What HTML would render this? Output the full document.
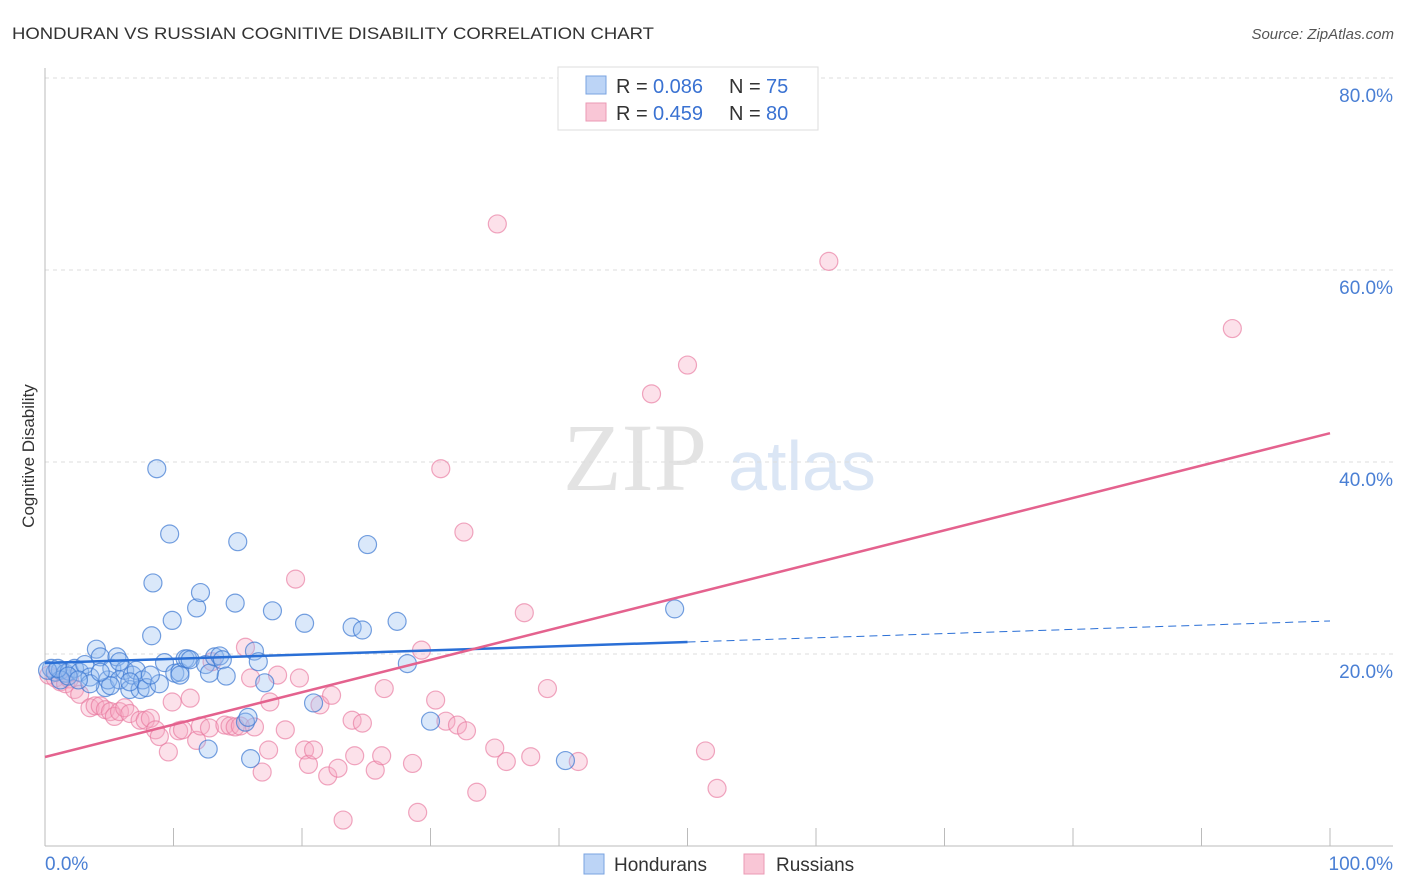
<!DOCTYPE html>
<html><head><meta charset="utf-8">
<style>
body{margin:0;background:#fff;font-family:"Liberation Sans",sans-serif;}
svg{display:block}
</style></head>
<body>
<svg id="chart" width="1406" height="892" xmlns="http://www.w3.org/2000/svg" font-family="Liberation Sans, sans-serif">
<text x="12" y="39" font-size="17" fill="#333" textLength="642" lengthAdjust="spacingAndGlyphs">HONDURAN VS RUSSIAN COGNITIVE DISABILITY CORRELATION CHART</text>
<text x="1394" y="39" font-size="15" fill="#555" font-style="italic" text-anchor="end">Source: ZipAtlas.com</text>
<g>
<text x="635" y="490" font-size="96" font-family="Liberation Serif, serif" fill="#e3e3e3" text-anchor="middle">ZIP</text>
<text x="802" y="490" font-size="70" fill="#dbe6f5" text-anchor="middle">atlas</text>
</g>
<g id="grid"></g>
<line x1="45" y1="68" x2="45" y2="846" stroke="#bbb" stroke-width="1"/>
<line x1="45" y1="846" x2="1393" y2="846" stroke="#bbb" stroke-width="1"/>
<g id="xticks"></g>
<g id="ylabels"></g>
<text x="45" y="870" font-size="19" fill="#4a7fd4">0.0%</text>
<text x="1393" y="870" font-size="19" fill="#4a7fd4" text-anchor="end">100.0%</text>
<text transform="translate(34,456) rotate(-90)" font-size="17" fill="#333" text-anchor="middle">Cognitive Disability</text>
<g id="pts"></g>
<g id="lines"></g>
<g>
<rect x="558" y="67" width="260" height="63" fill="#fff" stroke="#ddd"/>
<rect x="586" y="76" width="20" height="18" fill="#bcd4f6" stroke="#7aa3e0"/>
<rect x="586" y="103" width="20" height="18" fill="#f9c6d6" stroke="#eb9ab4"/>
<text x="616" y="93" font-size="20" fill="#333">R =</text>
<text x="653" y="93" font-size="20" fill="#3a72d2">0.086</text>
<text x="729" y="93" font-size="20" fill="#333">N =</text>
<text x="766" y="93" font-size="20" fill="#3a72d2">75</text>
<text x="616" y="120" font-size="20" fill="#333">R =</text>
<text x="653" y="120" font-size="20" fill="#3a72d2">0.459</text>
<text x="729" y="120" font-size="20" fill="#333">N =</text>
<text x="766" y="120" font-size="20" fill="#3a72d2">80</text>
</g>
<g>
<rect x="584" y="854" width="20" height="20" fill="#bcd4f6" stroke="#7aa3e0"/>
<text x="614" y="871" font-size="19" fill="#333">Hondurans</text>
<rect x="744" y="854" width="20" height="20" fill="#f9c6d6" stroke="#eb9ab4"/>
<text x="776" y="871" font-size="19" fill="#333">Russians</text>
</g>
</svg>
<script>
const yTicks=[20,40,60,80];
const yTickLabels=["20.0%","40.0%","60.0%","80.0%"];
const xTicks=[10,20,30,40,50,60,70,80,90,100];
const hondX=[0.5,0.8,1.2,1.6,1.9,2.3,2.7,3.1,3.5,4.0,4.3,4.7,4.9,5.2,5.6,5.8,6.2,6.6,6.8,7.1,7.4,7.6,7.9,8.3,8.4,8.7,8.9,9.3,9.7,9.9,10.1,10.5,10.9,11.1,11.3,11.8,12.1,12.5,12.8,13.2,13.6,13.8,14.1,14.8,15.0,15.6,15.8,16.0,16.3,16.6,17.1,17.7,20.2,20.9,23.9,24.7,25.1,27.4,28.2,30.0,40.5,49.0,12.7,1.2,5.1,8.2,3.5,6.6,10.5,0.2,1.0,1.8,2.6,4.3,5.8];
const hondY=[18.5,18.1,18.3,18.0,18.2,18.5,18.1,18.9,17.6,20.5,19.7,16.5,17.3,18.5,19.7,17.3,18.3,16.3,17.8,18.3,16.3,17.3,16.5,21.9,27.4,39.3,16.9,19.1,32.5,23.5,18.0,18.1,19.5,19.5,19.4,24.8,26.4,18.9,18.0,19.7,19.8,19.4,17.7,25.3,31.7,12.9,13.4,9.1,20.3,19.2,17.0,24.5,23.2,14.9,22.8,22.5,31.4,23.4,19.0,13.0,8.9,24.7,10.1,17.3,16.7,17.8,16.9,17.1,17.8,18.3,18.5,17.7,17.3,18.1,19.2];
const rusX=[0.3,0.8,1.2,1.6,1.9,2.3,2.7,3.5,3.9,4.3,4.7,5.1,5.4,5.8,6.2,6.6,7.4,7.8,8.2,8.6,8.9,9.6,9.9,10.4,10.7,11.3,11.8,12.1,12.8,13.0,14.0,14.4,14.8,15.2,15.6,16.0,16.3,16.9,17.4,17.5,18.1,18.7,19.5,19.8,20.2,20.5,20.9,21.4,22.0,22.3,22.8,23.2,23.9,24.1,24.7,25.7,26.2,26.4,28.6,29.0,29.3,30.4,30.8,31.2,32.1,32.6,32.8,33.6,35.0,35.2,35.9,37.3,37.8,39.1,41.5,47.2,50.0,51.4,52.3,61.0,92.4];
const rusY=[17.8,17.5,17.1,16.9,17.4,16.3,15.8,14.4,14.6,14.6,14.2,14.0,13.5,14.0,14.4,13.8,13.1,13.1,13.3,12.1,11.4,9.8,15.0,12.0,12.1,15.4,11.0,12.5,12.3,19.2,12.6,12.5,12.4,12.5,20.7,17.5,12.4,7.7,10.0,15.0,17.8,12.1,27.8,17.5,10.0,8.5,10.0,14.7,7.3,15.7,8.1,2.7,13.1,9.4,12.8,7.9,9.4,16.4,8.6,3.5,20.4,15.2,39.3,13.0,12.6,32.7,12.0,5.6,10.2,64.8,8.8,24.3,9.3,16.4,8.8,47.1,50.1,9.9,6.0,60.9,53.9];
const hondLine=[19.06,23.44];
const rusLine=[9.27,43.0];
const sx=v=>45+v*12.85, sy=v=>846-v*9.6;
const NS="http://www.w3.org/2000/svg";
function mk(tag,attrs,parent){const e=document.createElementNS(NS,tag);for(const k in attrs)e.setAttribute(k,attrs[k]);parent.appendChild(e);return e;}
const grid=document.getElementById('grid'),yl=document.getElementById('ylabels'),xt=document.getElementById('xticks');
yTicks.forEach((t,i)=>{
 const l=mk('line',{x1:45,x2:1393,y1:sy(t),y2:sy(t),stroke:'#ddd','stroke-dasharray':'4,4'},grid);
 
 
 const tx=mk('text',{x:1393,y:sy(t)+24,'font-size':19,fill:'#4a7fd4','text-anchor':'end'},yl);
 tx.textContent=yTickLabels[i];
 
 
});
xTicks.forEach(t=>{
 const l=mk('line',{x1:sx(t),x2:sx(t),y1:828,y2:846,stroke:'#bbb'},xt);
 
 
});
const pts=document.getElementById('pts');
rusX.forEach((x,i)=>{
 const c=mk('circle',{cx:sx(x),cy:sy(rusY[i]),r:9,fill:'rgba(246,170,195,0.35)',stroke:'rgba(232,120,158,0.65)','stroke-width':1.2},pts);
 
 
});
hondX.forEach((x,i)=>{
 const c=mk('circle',{cx:sx(x),cy:sy(hondY[i]),r:9,fill:'rgba(150,188,240,0.35)',stroke:'rgba(60,120,210,0.7)','stroke-width':1.2},pts);
 
 
});
const lines=document.getElementById('lines');
const hy=x=>hondLine[0]+(hondLine[1]-hondLine[0])*x/100;
let a=mk('line',{x1:sx(0),y1:sy(hy(0)),x2:sx(50),y2:sy(hy(50)),stroke:'#2a6fd6','stroke-width':2.5},lines);


a=mk('line',{x1:sx(50),y1:sy(hy(50)),x2:sx(100),y2:sy(hy(100)),stroke:'#2a6fd6','stroke-width':1,'stroke-dasharray':'8,5'},lines);


a=mk('line',{x1:sx(0),y1:sy(rusLine[0]),x2:sx(100),y2:sy(rusLine[1]),stroke:'#e4628e','stroke-width':2.5},lines);


</script>
</body></html>
